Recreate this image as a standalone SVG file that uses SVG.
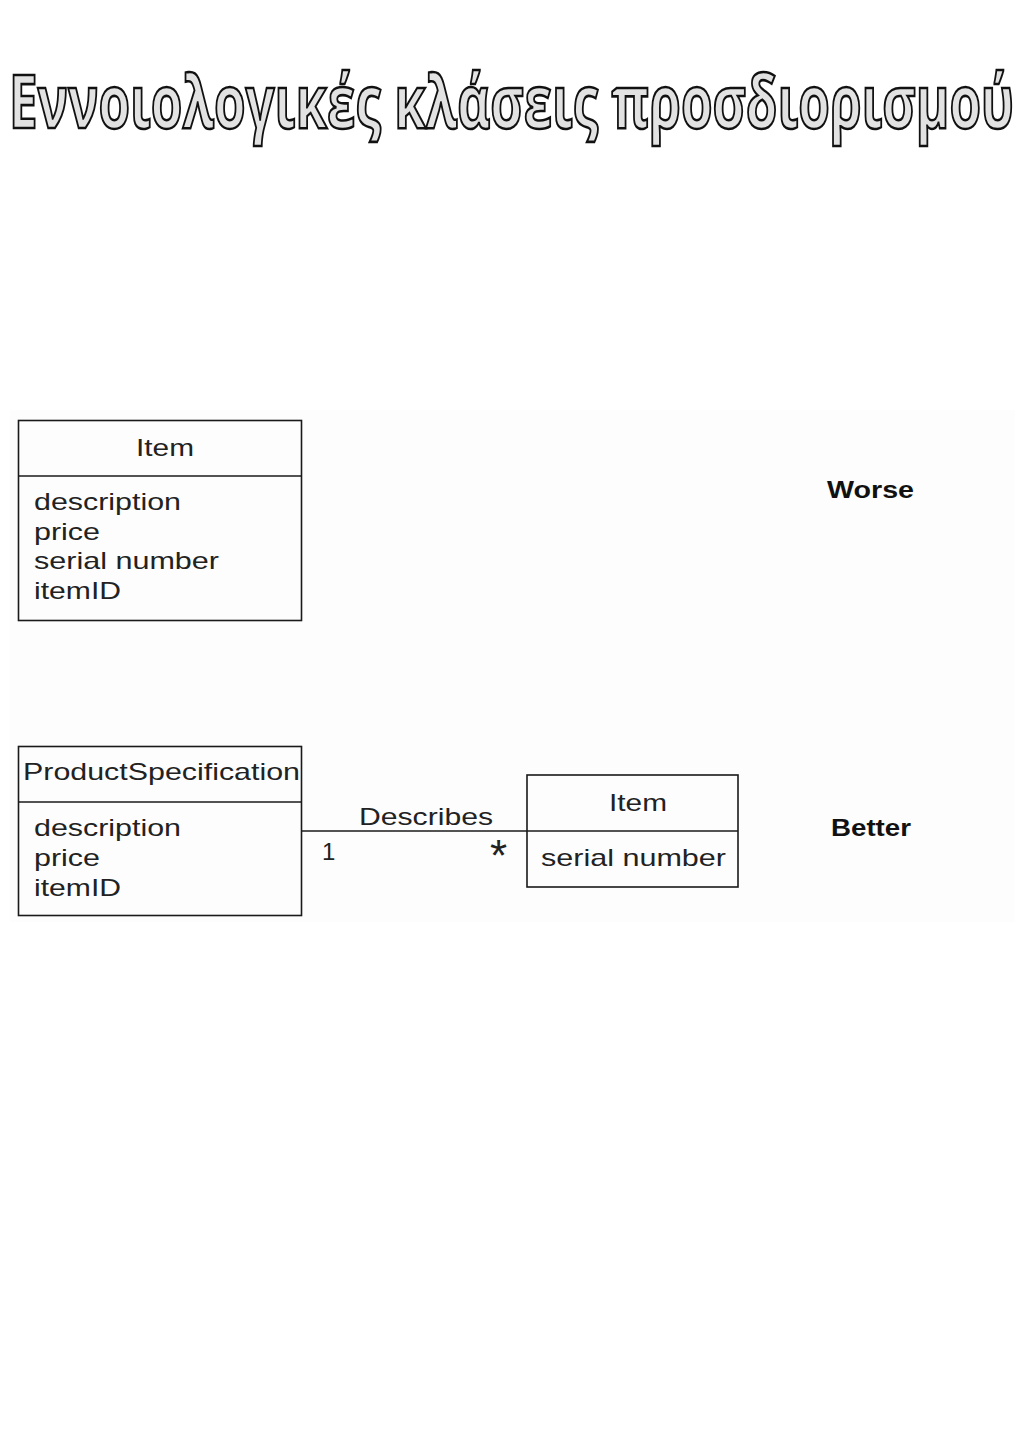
<svg xmlns="http://www.w3.org/2000/svg" width="1024" height="1448" viewBox="0 0 1024 1448">
<style>
.box{fill:none;stroke:#1a1a1a;stroke-width:1.6}
.t{font-family:"Liberation Sans",Arial,sans-serif;font-size:24px;fill:#222}
.b{font-family:"Liberation Sans",Arial,sans-serif;font-size:23px;font-weight:bold;fill:#111}
.title{font-family:"Open Sans","Noto Sans",sans-serif;font-weight:700;font-size:74px;fill:#e2e2e2;stroke:#111;stroke-width:2.6}
</style>
<rect width="1024" height="1448" fill="#ffffff"/>
<rect x="10" y="410" width="1005" height="512" fill="#fdfdfd"/>
<text class="title" x="9" y="128" textLength="1005" lengthAdjust="spacingAndGlyphs">Εννοιολογικές κλάσεις προσδιορισμού</text>
<g id="item-worse">
<rect class="box" x="18.5" y="420.5" width="283" height="200"/>
<line class="box" x1="18.5" y1="476" x2="301.5" y2="476"/>
<text class="t" x="136" y="456" textLength="58" lengthAdjust="spacingAndGlyphs">Item</text>
<text class="t" x="34" y="510" textLength="147" lengthAdjust="spacingAndGlyphs">description</text>
<text class="t" x="34" y="540" textLength="66" lengthAdjust="spacingAndGlyphs">price</text>
<text class="t" x="34" y="569" textLength="185" lengthAdjust="spacingAndGlyphs">serial number</text>
<text class="t" x="34" y="599" textLength="87" lengthAdjust="spacingAndGlyphs">itemID</text>
</g>
<g id="worse-label">
<text class="b" x="827" y="498" textLength="87" lengthAdjust="spacingAndGlyphs">Worse</text>
</g>
<g id="product-spec">
<rect class="box" x="18.5" y="746.5" width="283" height="169"/>
<line class="box" x1="18.5" y1="802" x2="301.5" y2="802"/>
<text class="t" x="23" y="780" textLength="277" lengthAdjust="spacingAndGlyphs">ProductSpecification</text>
<text class="t" x="34" y="836" textLength="147" lengthAdjust="spacingAndGlyphs">description</text>
<text class="t" x="34" y="866" textLength="66" lengthAdjust="spacingAndGlyphs">price</text>
<text class="t" x="34" y="896" textLength="87" lengthAdjust="spacingAndGlyphs">itemID</text>
</g>
<g id="item-better">
<rect class="box" x="527" y="775" width="211" height="112"/>
<line class="box" x1="527" y1="831" x2="738" y2="831"/>
<text class="t" x="609" y="811" textLength="58" lengthAdjust="spacingAndGlyphs">Item</text>
<text class="t" x="541" y="866" textLength="185" lengthAdjust="spacingAndGlyphs">serial number</text>
</g>
<g id="better-label">
<text class="b" x="831" y="836" textLength="80" lengthAdjust="spacingAndGlyphs">Better</text>
</g>
<g id="connectors">
<line class="box" x1="301.5" y1="831" x2="527" y2="831"/>
<text class="t" x="359" y="825" textLength="134" lengthAdjust="spacingAndGlyphs">Describes</text>
<text class="t" x="322" y="860">1</text>
<text class="t" x="490" y="871" style="font-size:44px">*</text>
</g>
</svg>
